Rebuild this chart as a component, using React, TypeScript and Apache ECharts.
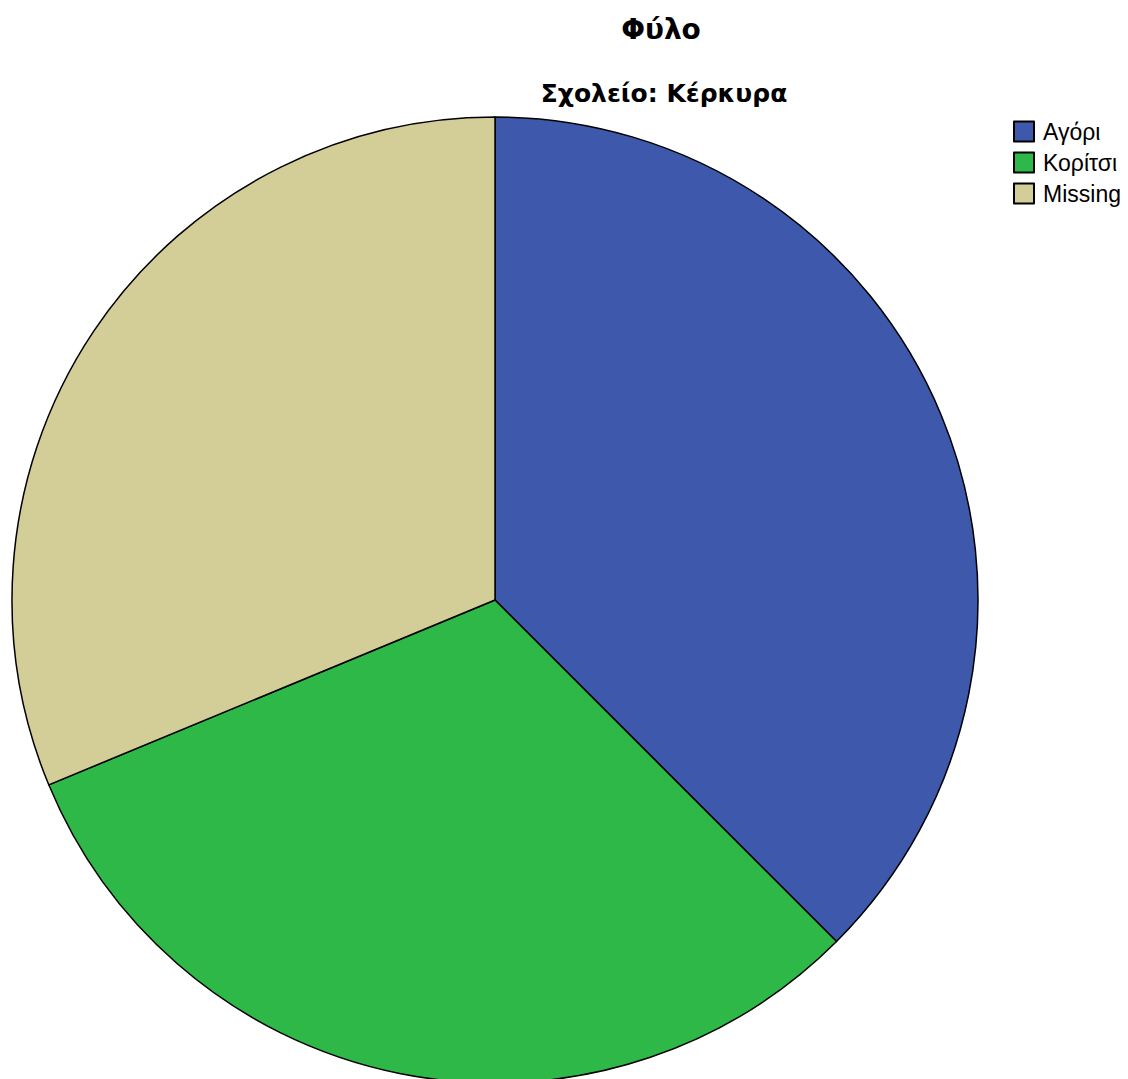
import React, { useEffect, useRef } from "react";
import * as echarts from "echarts";

const categories = ["Αγόρι", "Κορίτσι", "Missing"];
const counts = [12, 10, 10];
const colors = ["#3E58AC", "#2EB848", "#D3CE97"];
const titleText = "Φύλο";
const subtitleText = "Σχολείο: Κέρκυρα";

export default function App() {
  const ref = useRef<HTMLDivElement>(null);
  useEffect(() => {
    if (!ref.current) return;
    const chart = echarts.init(ref.current, undefined, { renderer: "svg" });
    chart.setOption({
      animation: false,
      backgroundColor: "#ffffff",
      title: [
        {
          text: titleText,
          left: 656,
          top: 10,
          textAlign: "center",
          textStyle: { fontFamily: "DejaVu Sans", fontWeight: "bold", fontSize: 28, color: "#000" },
        },
        {
          text: subtitleText,
          left: 659,
          top: 76,
          textAlign: "center",
          textStyle: { fontFamily: "DejaVu Sans", fontWeight: "bold", fontSize: 25, color: "#000" },
        },
      ],
      legend: {
        orient: "vertical",
        left: 1013,
        top: 120,
        padding: 0,
        itemWidth: 20,
        itemHeight: 20,
        itemGap: 8,
        icon: "rect",
        selectedMode: false,
        textStyle: {
          fontFamily: "Liberation Sans",
          fontSize: 23,
          lineHeight: 20,
          color: "#000",
          padding: [0, 0, 0, 4],
        },
        data: categories,
      },
      series: [
        {
          type: "pie",
          center: [495, 600],
          radius: 483,
          startAngle: 90,
          clockwise: true,
          label: { show: false },
          labelLine: { show: false },
          emphasis: { disabled: true },
          itemStyle: { borderColor: "#000", borderWidth: 1.5 },
          data: categories.map((name, i) => ({
            name,
            value: counts[i],
            itemStyle: { color: colors[i] },
          })),
        },
      ],
    });
    return () => chart.dispose();
  }, []);
  return (
    <div
      ref={ref}
      style={{ position: "fixed", left: 0, top: 0, width: 1128, height: 1079 }}
    />
  );
}
